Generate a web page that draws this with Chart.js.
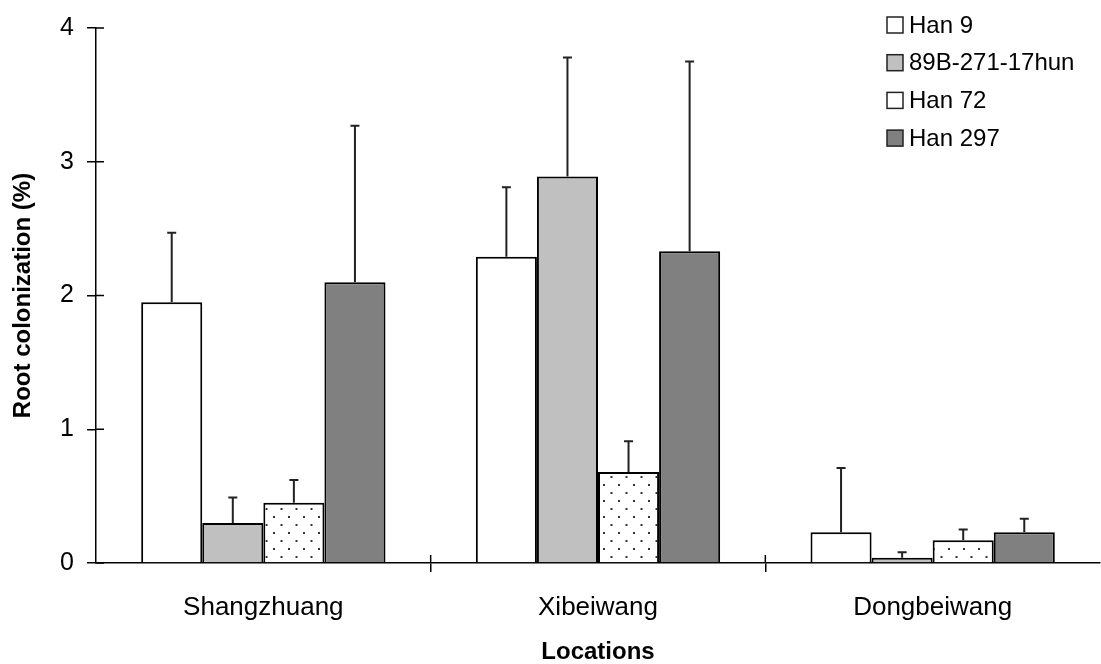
<!DOCTYPE html>
<html>
<head>
<meta charset="utf-8">
<script src="https://cdn.jsdelivr.net/npm/chart.js@4/dist/chart.umd.min.js"></script>
<style>
  html, body { margin: 0; padding: 0; background: #fff; }
  #chart-area { display: block; }
</style>
</head>
<body>
<canvas id="chart-area" width="1101" height="664"></canvas>
<script>
/* Root colonization bar chart */

const categories = ["Shangzhuang", "Xibeiwang", "Dongbeiwang"];
const seriesNames = ["Han 9", "89B-271-17hun", "Han 72", "Han 297"];

const han9 = [1.95, 2.29, 0.23];
const b89 = [0.30, 2.89, 0.04];
const han72 = [0.45, 0.68, 0.17];
const han297 = [2.10, 2.33, 0.23];

// upper error bar lengths
const han9Err = [0.52, 0.52, 0.48];
const b89Err = [0.19, 0.89, 0.04];
const han72Err = [0.17, 0.23, 0.08];
const han297Err = [1.17, 1.42, 0.10];

const yTicks = [0, 1, 2, 3, 4];

const FONT = "'Liberation Sans', Arial, sans-serif";

// dotted fill for Han 72
function dotPattern() {
  const c = document.createElement("canvas");
  c.width = 15;
  c.height = 16;
  const g = c.getContext("2d");
  g.fillStyle = "#fff";
  g.fillRect(0, 0, 15, 16);
  g.fillStyle = "#333";
  g.fillRect(3, 4, 2, 2);
  g.fillRect(10.5, 12, 2, 2);
  return document.getElementById("chart-area").getContext("2d").createPattern(c, "repeat");
}

const errorBars = {
  id: "errorBars",
  afterDatasetsDraw(chart) {
    const ctx = chart.ctx;
    const y = chart.scales.y;
    ctx.save();
    ctx.strokeStyle = "#222";
    ctx.lineWidth = 2;
    chart.data.datasets.forEach((ds, i) => {
      chart.getDatasetMeta(i).data.forEach((bar, j) => {
        const top = y.getPixelForValue(ds.data[j] + ds.err[j]);
        ctx.beginPath();
        ctx.moveTo(bar.x, bar.y);
        ctx.lineTo(bar.x, top);
        ctx.moveTo(bar.x - 4.5, top);
        ctx.lineTo(bar.x + 4.5, top);
        ctx.stroke();
      });
    });
    // inner half of the crossing tick marks
    const x = chart.scales.x;
    const area = chart.chartArea;
    ctx.strokeStyle = "#000";
    ctx.lineWidth = 1.5;
    ctx.beginPath();
    yTicks.forEach((v) => {
      const py = y.getPixelForValue(v);
      ctx.moveTo(area.left, py);
      ctx.lineTo(area.left + 8, py);
    });
    for (let k = 1; k < categories.length; k++) {
      const px = x.getPixelForValue(k - 0.5);
      ctx.moveTo(px, area.bottom);
      ctx.lineTo(px, area.bottom - 8);
    }
    ctx.stroke();
    ctx.restore();
  },
};

const boxLegend = {
  id: "boxLegend",
  afterDraw(chart) {
    const ctx = chart.ctx;
    ctx.save();
    ctx.font = "24px " + FONT;
    ctx.textBaseline = "middle";
    chart.data.datasets.forEach((ds, i) => {
      const cy = 25 + i * 37.7;
      ctx.fillStyle = ds.legendColor;
      ctx.fillRect(887, cy - 8, 16, 16);
      ctx.strokeStyle = "#222";
      ctx.lineWidth = 1.5;
      ctx.strokeRect(887, cy - 8, 16, 16);
      ctx.fillStyle = "#000";
      ctx.fillText(ds.label, 909, cy + 1);
    });
    ctx.restore();
  },
};

let config = {
  type: "bar",
  data: {
    labels: categories,
    datasets: [
      { label: seriesNames[0], data: han9, err: han9Err, backgroundColor: "#ffffff", legendColor: "#ffffff" },
      { label: seriesNames[1], data: b89, err: b89Err, backgroundColor: "#c0c0c0", legendColor: "#c0c0c0" },
      { label: seriesNames[2], data: han72, err: han72Err, backgroundColor: dotPattern(), legendColor: "#ffffff" },
      { label: seriesNames[3], data: han297, err: han297Err, backgroundColor: "#808080", legendColor: "#808080" },
    ].map((d) => Object.assign(d, {
      borderColor: "#000",
      borderWidth: 2,
      categoryPercentage: 0.73,
      barPercentage: 1.0,
    })),
  },
  options: {
    responsive: false,
    animation: false,
    devicePixelRatio: 1,
    layout: { padding: { top: 24, right: 1, left: 0, bottom: 0 } },
    plugins: {
      legend: { display: false },
      tooltip: { enabled: false },
    },
    scales: {
      x: {
        offset: true,
        afterFit: (s) => { s.height = 101; },
        grid: {
          offset: true,
          drawOnChartArea: false,
          drawTicks: true,
          tickLength: 9,
          lineWidth: 1.5,
          color: (c) => (c.index >= 1 && c.index < categories.length ? "#000" : "rgba(0,0,0,0)"),
        },
        border: { color: "#000", width: 1.5 },
        ticks: { color: "#000", padding: 20, font: { family: FONT, size: 26 } },
        title: {
          display: true,
          text: "Locations",
          color: "#000",
          font: { family: FONT, size: 24, weight: "bold", lineHeight: 1 },
          padding: { top: 0, bottom: 0 },
        },
      },
      y: {
        min: 0,
        max: 4,
        afterFit: (s) => { s.width = 96; },
        afterBuildTicks: (s) => { s.ticks = yTicks.map((v) => ({ value: v })); },
        grid: {
          drawOnChartArea: false,
          drawTicks: true,
          tickLength: 9,
          lineWidth: 1.5,
          color: "#000",
        },
        border: { color: "#000", width: 1.5 },
        ticks: { color: "#000", padding: 13, font: { family: FONT, size: 25 } },
        title: {
          display: true,
          text: "Root colonization (%)",
          color: "#000",
          font: { family: FONT, size: 24, weight: "bold", lineHeight: 1.2 },
          padding: { top: 9, bottom: 0 },
        },
      },
    },
  },
  plugins: [errorBars, boxLegend],
};

window.onload = function () {
  let ctx = document.getElementById("chart-area").getContext("2d");
  window.myBars = new Chart(ctx, config);
};
</script>
</body>
</html>
